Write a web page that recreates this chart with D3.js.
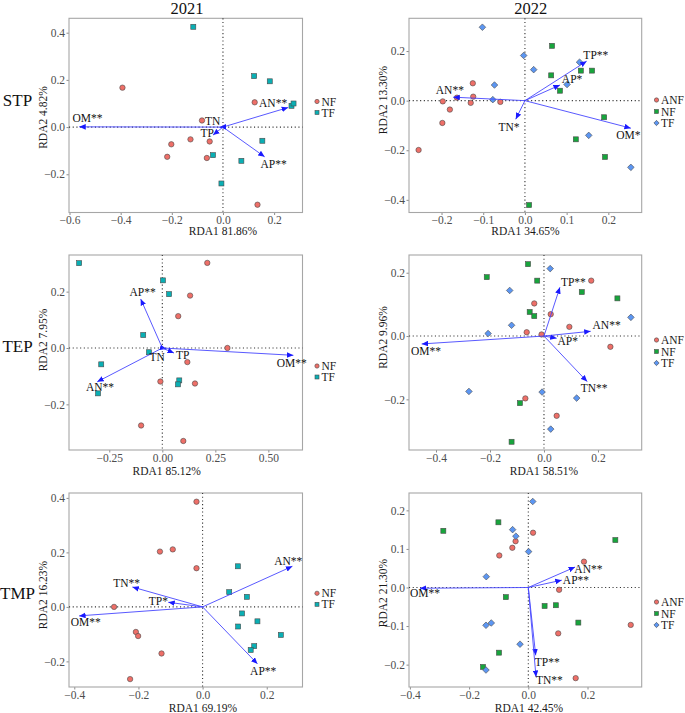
<!DOCTYPE html>
<html><head><meta charset="utf-8">
<script src="https://cdn.jsdelivr.net/npm/d3@7"></script>
<style>body{margin:0;background:#fff}svg{display:block}text{font-family:"Liberation Serif","Times New Roman",serif}</style>
</head><body><svg id="c" width="685" height="713"></svg>
<script>
// ---------- data ----------
const years = ["2021", "2022"];
const indices = ["STP", "TEP", "TMP"];
const rda1Titles = ["RDA1 81.86%", "RDA1 34.65%", "RDA1 85.12%", "RDA1 58.51%", "RDA1 69.19%", "RDA1 42.45%"];
const rda2Titles = ["RDA2 4.82%", "RDA2 13.30%", "RDA2 7.95%", "RDA2 9.96%", "RDA2 16.23%", "RDA2 21.30%"];
const xTicks = [[-0.6, -0.4, -0.2, 0, 0.2], [-0.2, -0.1, 0, 0.1, 0.2], [-0.25, 0, 0.25, 0.5], [-0.4, -0.2, 0, 0.2], [-0.4, -0.2, 0, 0.2], [-0.4, -0.2, 0, 0.2]];
const yTicks = [[-0.2, 0, 0.2, 0.4], [-0.4, -0.2, 0, 0.2], [-0.2, 0, 0.2], [-0.2, 0, 0.2], [-0.2, 0, 0.2, 0.4], [-0.2, -0.1, 0, 0.1, 0.2]];
const xDomains = [[-0.602, 0.311], [-0.278, 0.280], [-0.440, 0.661], [-0.500, 0.362], [-0.4165, 0.3115], [-0.403, 0.383]];
const yDomains = [[-0.362, 0.461], [-0.451, 0.332], [-0.362, 0.330], [-0.360, 0.256], [-0.294, 0.418], [-0.258, 0.245]];
const groups2021 = ["NF", "TF"];
const groups2022 = ["ANF", "NF", "TF"];

// STP 2021
const STP2021_NF = [[-0.393,0.167],[0.124,0.105],[-0.082,0.028],[-0.127,-0.052],[-0.202,-0.073],[-0.052,-0.061],[-0.218,-0.126],[-0.063,-0.131],[0.135,-0.329]];
const STP2021_TF = [[-0.116,0.425],[0.122,0.216],[0.183,0.194],[0.268,0.090],[0.276,0.100],[0.154,-0.058],[-0.039,-0.119],[0.072,-0.143],[-0.006,-0.239]];
const STP2021_arrows = [["OM**",-0.562,0.001,-0.530,0.038],["AN**",0.255,0.083,0.196,0.100],["AP**",0.163,-0.126,0.198,-0.157],["TN",-0.013,-0.001,-0.040,0.027],["TP",-0.039,-0.034,-0.062,-0.027]];
// STP 2022
const STP2022_ANF = [[-0.255,-0.199],[-0.198,-0.090],[-0.197,-0.003],[-0.180,-0.036],[-0.125,0.070],[-0.124,0.016],[-0.130,-0.009],[-0.059,-0.005],[-0.163,0.012]];
const STP2022_NF = [[0.065,0.221],[0.063,0.102],[0.134,0.121],[0.161,0.121],[0.084,0.040],[0.190,-0.067],[0.122,-0.156],[0.192,-0.227],[0.010,-0.421]];
const STP2022_TF = [[-0.102,0.296],[-0.003,0.182],[0.021,0.125],[-0.073,0.063],[-0.077,0.004],[0.131,0.155],[0.101,0.065],[0.153,-0.140],[0.254,-0.269]];
const STP2022_arrows = [["AN**",-0.172,0.014,-0.180,0.043],["TP**",0.148,0.159,0.170,0.184],["AP*",0.084,0.063,0.113,0.089],["TN*",-0.022,-0.075,-0.038,-0.107],["OM*",0.254,-0.111,0.248,-0.137]];
// TEP 2021
const TEP2021_NF = [[0.212,0.302],[0.131,0.186],[0.075,0.113],[0.307,0.0],[0.118,-0.050],[0.154,-0.126],[-0.009,-0.119],[-0.100,-0.275],[0.099,-0.330]];
const TEP2021_TF = [[-0.392,0.301],[0.003,0.240],[0.032,0.191],[-0.090,0.046],[-0.063,-0.015],[-0.288,-0.058],[0.080,-0.115],[0.074,-0.129],[-0.303,-0.161]];
const TEP2021_arrows = [["AP**",-0.102,0.174,-0.093,0.200],["AN**",-0.307,-0.120,-0.294,-0.138],["OM**",0.618,-0.026,0.610,-0.053],["TN",0.019,-0.004,-0.024,-0.033],["TP",0.055,-0.018,0.096,-0.024]];
// TEP 2022
const TEP2022_ANF = [[0.175,0.175],[-0.036,0.103],[0.025,0.069],[0.094,0.029],[-0.064,0.012],[-0.009,0.005],[0.246,-0.034],[-0.069,-0.197],[0.047,-0.252]];
const TEP2022_NF = [[-0.059,0.227],[-0.212,0.186],[-0.025,0.175],[0.140,0.139],[0.272,0.119],[-0.053,0.076],[-0.036,0.063],[-0.089,-0.212],[-0.120,-0.334]];
const TEP2022_TF = [[0.023,0.213],[-0.127,0.144],[-0.120,0.034],[-0.207,0.008],[0.322,0.059],[-0.278,-0.175],[-0.007,-0.177],[0.121,-0.196],[0.025,-0.294]];
const TEP2022_arrows = [["TP**",0.059,0.154,0.109,0.172],["AN**",0.173,0.015,0.232,0.035],["AP*",0.047,-0.007,0.088,-0.016],["TN**",0.160,-0.144,0.186,-0.163],["OM**",-0.453,-0.025,-0.437,-0.046]];
// TMP 2021
const TMP2021_NF = [[-0.019,0.386],[-0.133,0.203],[-0.093,0.211],[-0.019,0.142],[-0.276,0.0],[-0.208,-0.092],[-0.201,-0.107],[-0.128,-0.171],[-0.226,-0.265]];
const TMP2021_TF = [[0.110,0.149],[0.083,0.054],[0.138,0.037],[0.123,-0.024],[0.171,-0.053],[0.111,-0.072],[0.244,-0.103],[0.161,-0.144],[0.150,-0.158]];
const TMP2021_arrows = [["AN**",0.280,0.149,0.267,0.169],["AP**",0.171,-0.209,0.189,-0.236],["TN**",-0.219,0.073,-0.237,0.089],["TP*",-0.107,0.017,-0.138,0.022],["OM**",-0.385,-0.033,-0.364,-0.057]];
// TMP 2022
const TMP2022_ANF = [[0.016,0.142],[-0.043,0.120],[-0.054,0.103],[-0.098,0.083],[0.188,0.067],[0.104,-0.006],[0.101,-0.119],[0.346,-0.097],[0.160,-0.235]];
const TMP2022_NF = [[-0.287,0.147],[-0.101,0.169],[0.294,0.123],[-0.076,-0.025],[0.055,-0.048],[0.093,-0.046],[0.169,-0.091],[-0.099,-0.169],[-0.153,-0.206]];
const TMP2022_TF = [[0.015,0.223],[-0.053,0.150],[-0.042,0.133],[0.001,0.093],[-0.142,0.028],[-0.143,-0.098],[-0.125,-0.092],[-0.028,-0.147],[-0.143,-0.214]];
const TMP2022_arrows = [["AN**",0.158,0.053,0.203,0.049],["AP**",0.113,0.019,0.161,0.019],["TP**",0.025,-0.176,0.064,-0.192],["TN**",0.026,-0.232,0.071,-0.241],["OM**",-0.366,-0.002,-0.349,-0.015]];

// ---------- layout / style ----------
const svg = d3.select("#c");
const colL = [69, 409], colR = [302.5, 641.7];
const rowT = [18.3, 255, 493], rowB = [212.5, 450, 687];
const styleOf = {
  "2021": {NF: {shape: "circle", fill: "#EE6F68"}, TF: {shape: "square", fill: "#0AAFB4"}},
  "2022": {ANF: {shape: "circle", fill: "#EE6F68"}, NF: {shape: "square", fill: "#17A53C"}, TF: {shape: "diamond", fill: "#5C96F2"}}
};
const xTitlePos = [[223, 235], [525.5, 235], [166.7, 475], [544, 475], [203, 711.5], [529, 711.5]];
const yTitlePos = [[42.5, 117.5], [383, 100], [42.5, 340], [383, 337.5], [42.5, 595], [383, 593]];
const legendY = [[101.5, 112.5], [100, 111.5, 123], [366, 377], [340, 351.5, 363], [593.3, 604.3], [602, 613.5, 625]];
const legendX = [317, 656.5];

const panels = [
  {pts: [STP2021_NF, STP2021_TF], arrows: STP2021_arrows},
  {pts: [STP2022_ANF, STP2022_NF, STP2022_TF], arrows: STP2022_arrows},
  {pts: [TEP2021_NF, TEP2021_TF], arrows: TEP2021_arrows},
  {pts: [TEP2022_ANF, TEP2022_NF, TEP2022_TF], arrows: TEP2022_arrows},
  {pts: [TMP2021_NF, TMP2021_TF], arrows: TMP2021_arrows},
  {pts: [TMP2022_ANF, TMP2022_NF, TMP2022_TF], arrows: TMP2022_arrows}
];

svg.append("defs").append("marker")
  .attr("id", "ah").attr("markerUnits", "userSpaceOnUse")
  .attr("markerWidth", 7).attr("markerHeight", 6).attr("refX", 6.5).attr("refY", 3)
  .attr("orient", "auto")
  .append("path").attr("d", "M0,0.2 L6.5,3 L0,5.8 Z").attr("fill", "#1a1aff");

function symbol(g, shape, cx, cy, fill, s) {
  const stroke = "#4a4a4a", sw = 0.6;
  if (shape === "circle") g.append("circle").attr("cx", cx).attr("cy", cy).attr("r", 2.7 * s).attr("fill", fill).attr("stroke", stroke).attr("stroke-width", sw);
  else if (shape === "square") g.append("rect").attr("x", cx - 2.5 * s).attr("y", cy - 2.5 * s).attr("width", 5 * s).attr("height", 5 * s).attr("fill", fill).attr("stroke", stroke).attr("stroke-width", sw);
  else g.append("path").attr("d", `M${cx},${cy - 3.3 * s}L${cx + 3.3 * s},${cy}L${cx},${cy + 3.3 * s}L${cx - 3.3 * s},${cy}Z`).attr("fill", fill).attr("stroke", stroke).attr("stroke-width", sw);
}

panels.forEach((p, i) => {
  const col = i % 2, row = Math.floor(i / 2);
  const year = years[col];
  const grps = col === 0 ? groups2021 : groups2022;
  const L = colL[col], R = colR[col], T = rowT[row], B = rowB[row];
  const x = d3.scaleLinear().domain(xDomains[i]).range([L, R]);
  const y = d3.scaleLinear().domain(yDomains[i]).range([B, T]);
  const g = svg.append("g");
  const xDec = i === 2 ? 2 : 1;

  // axes
  const xa = g.append("g").attr("transform", `translate(0,${B})`)
    .call(d3.axisBottom(x).tickValues(xTicks[i]).tickSize(2.5).tickPadding(1).tickFormat(d => d3.format(`.${xDec}f`)(d).replace("-", "\u2212")));
  const ya = g.append("g").attr("transform", `translate(${L},0)`)
    .call(d3.axisLeft(y).tickValues(yTicks[i]).tickSize(2.5).tickPadding(1.5).tickFormat(d => d3.format(".1f")(d).replace("-", "\u2212")));
  [xa, ya].forEach(a => {
    a.select(".domain").remove();
    a.selectAll("line").attr("stroke", "#8c8c8c");
    a.selectAll("text").attr("fill", "#4d4d4d").style("font-size", "11.5px").style("font-family", '"Liberation Serif",serif');
  });

  // border
  g.append("rect").attr("x", L).attr("y", T).attr("width", R - L).attr("height", B - T)
    .attr("fill", "none").attr("stroke", "#a6a6a6").attr("stroke-width", 1.1);

  // zero lines
  g.append("line").attr("x1", x(0)).attr("x2", x(0)).attr("y1", T).attr("y2", B)
    .attr("stroke", "#333").attr("stroke-width", 1.1).attr("stroke-dasharray", "1.1,2.6");
  g.append("line").attr("x1", L).attr("x2", R).attr("y1", y(0)).attr("y2", y(0))
    .attr("stroke", "#333").attr("stroke-width", 1.1).attr("stroke-dasharray", "1.1,2.6");

  // points
  p.pts.forEach((arr, gi) => {
    const st = styleOf[year][grps[gi]];
    arr.forEach(d => symbol(g, st.shape, x(d[0]), y(d[1]), st.fill, 1));
  });

  // arrows
  p.arrows.forEach(a => {
    g.append("line").attr("x1", x(0)).attr("y1", y(0)).attr("x2", x(a[1])).attr("y2", y(a[2]))
      .attr("stroke", "#4646ff").attr("stroke-width", 0.9).attr("marker-end", "url(#ah)");
    g.append("text").attr("x", x(a[3])).attr("y", y(a[4])).attr("text-anchor", "middle")
      .attr("dominant-baseline", "central").style("font-size", "11.5px").attr("fill", "#111").text(a[0]);
  });

  // axis titles
  g.append("text").attr("x", xTitlePos[i][0]).attr("y", xTitlePos[i][1]).attr("text-anchor", "middle")
    .style("font-size", "11.5px").attr("fill", "#1a1a1a").text(rda1Titles[i]);
  g.append("text").attr("transform", `translate(${yTitlePos[i][0]},${yTitlePos[i][1]}) rotate(-90)`)
    .attr("text-anchor", "middle").attr("dominant-baseline", "central")
    .style("font-size", "11.5px").attr("fill", "#1a1a1a").text(rda2Titles[i]);

  // legend
  grps.forEach((gname, gi) => {
    const st = styleOf[year][gname];
    const ly = legendY[i][gi];
    symbol(g, st.shape, legendX[col], ly, st.fill, 0.8);
    g.append("text").attr("x", legendX[col] + 4.5).attr("y", ly).attr("dominant-baseline", "central")
      .style("font-size", "11.5px").attr("fill", "#1a1a1a").text(gname);
  });
});

// column titles
years.forEach((yr, c) => {
  svg.append("text").attr("x", c === 0 ? 187 : 530.7).attr("y", 13.5).attr("text-anchor", "middle")
    .style("font-size", "16.5px").attr("fill", "#111").text(yr);
});
// row labels
const rowLabelY = [106, 352, 598.5];
indices.forEach((lab, r) => {
  svg.append("text").attr("x", 17.5).attr("y", rowLabelY[r]).attr("text-anchor", "middle")
    .style("font-size", "17px").attr("fill", "#111").text(lab);
});
</script></body></html>
